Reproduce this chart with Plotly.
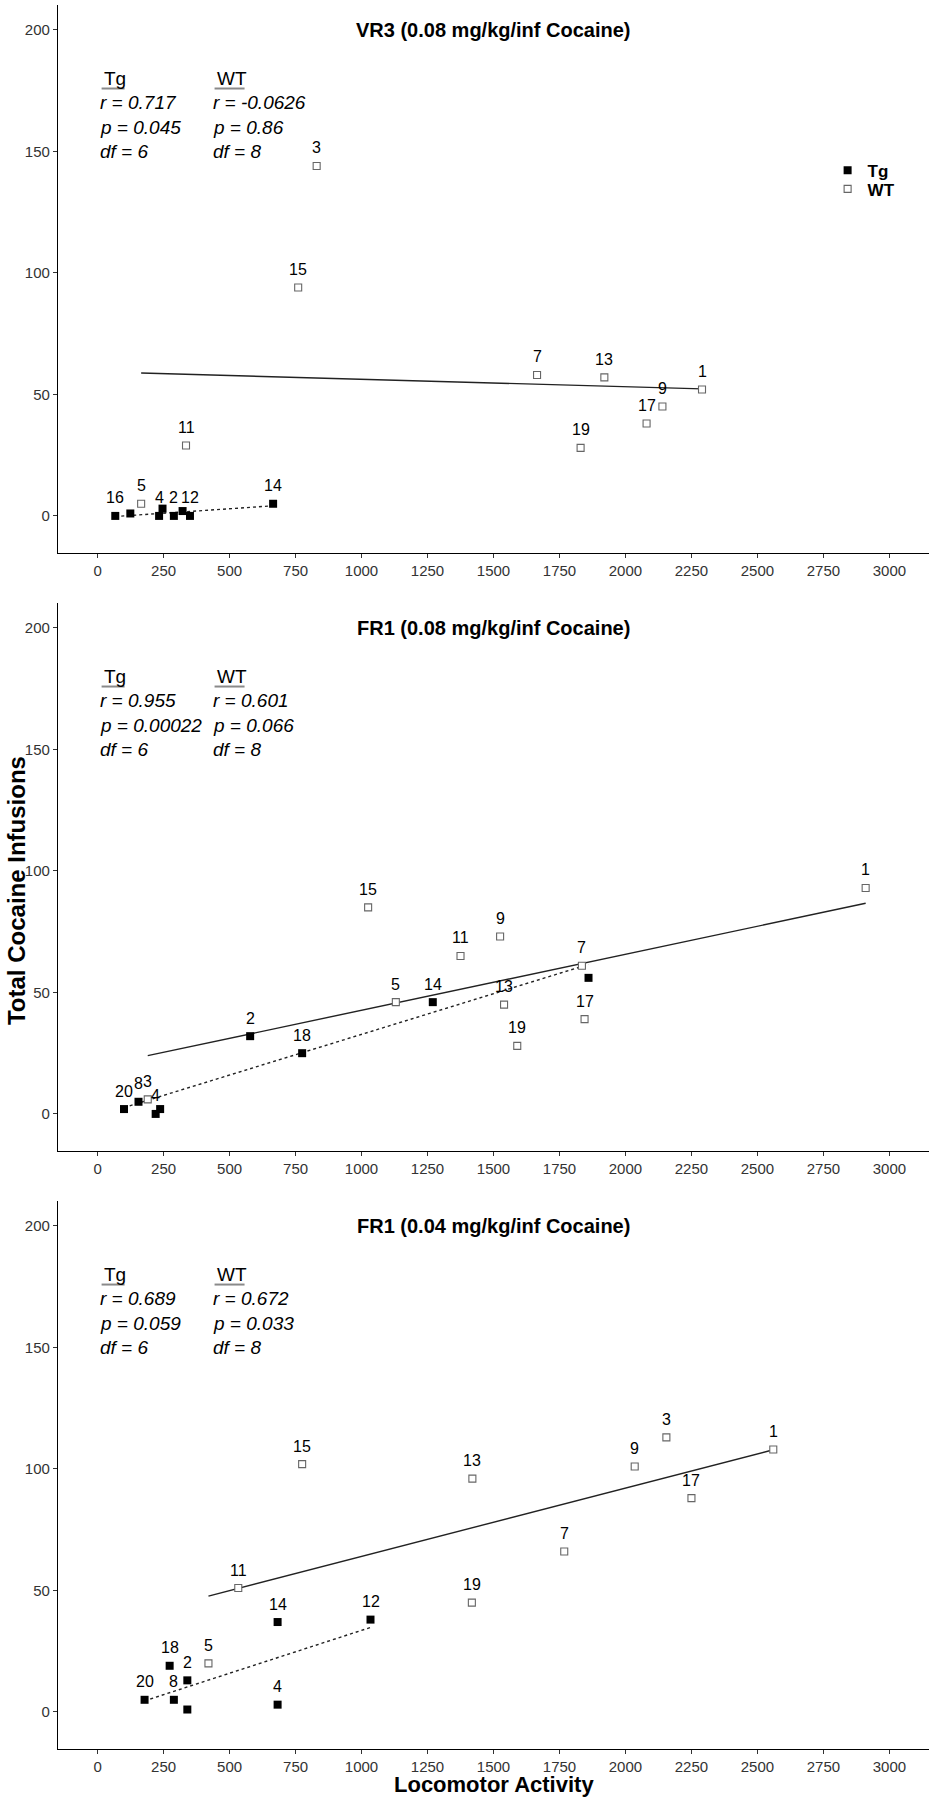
import numpy as np
import plotly.graph_objects as go

# ---------------- data ----------------
# Panel 1: VR3 (0.08 mg/kg/inf Cocaine)
p1_tg_x = [67, 124, 233, 246, 289, 322, 350, 665]
p1_tg_y = [0, 1, 0, 3, 0, 2, 0, 5]
p1_tg_lab = ['16', '', '4', '', '2', '', '12', '14']
p1_wt_x = [830, 760, 1665, 1920, 2290, 2140, 2080, 1830, 335, 165]
p1_wt_y = [144, 94, 58, 57, 52, 45, 38, 28, 29, 5]
p1_wt_lab = ['3', '15', '7', '13', '1', '9', '17', '19', '11', '5']

# Panel 2: FR1 (0.08 mg/kg/inf Cocaine)
p2_tg_x = [578, 775, 1270, 1860, 100, 155, 220, 237]
p2_tg_y = [32, 25, 46, 56, 2, 5, 0, 2]
p2_tg_lab = ['2', '18', '14', '', '20', '8', '4', '']
p2_wt_x = [2910, 1025, 1525, 1375, 1835, 1130, 1540, 1845, 1590, 190]
p2_wt_y = [93, 85, 73, 65, 61, 46, 45, 39, 28, 6]
p2_wt_lab = ['1', '15', '9', '11', '7', '5', '13', '17', '19', '3']

# Panel 3: FR1 (0.04 mg/kg/inf Cocaine)
p3_tg_x = [682, 1034, 273, 340, 178, 289, 340, 682]
p3_tg_y = [37, 38, 19, 13, 5, 5, 1, 3]
p3_tg_lab = ['14', '12', '18', '2', '20', '8', '', '4']
p3_wt_x = [2560, 2155, 2035, 775, 1420, 2250, 1768, 533, 1418, 420]
p3_wt_y = [108, 113, 101, 102, 96, 88, 66, 51, 45, 20]
p3_wt_lab = ['1', '3', '9', '15', '13', '17', '7', '11', '19', '5']

titles = ['VR3 (0.08 mg/kg/inf Cocaine)',
          'FR1 (0.08 mg/kg/inf Cocaine)',
          'FR1 (0.04 mg/kg/inf Cocaine)']
tg_stats = [['r = 0.717', 'p = 0.045', 'df = 6'],
            ['r = 0.955', 'p = 0.00022', 'df = 6'],
            ['r = 0.689', 'p = 0.059', 'df = 6']]
wt_stats = [['r = -0.0626', 'p = 0.86', 'df = 8'],
            ['r = 0.601', 'p = 0.066', 'df = 8'],
            ['r = 0.672', 'p = 0.033', 'df = 8']]

x_ticks = list(range(0, 3001, 250))
y_ticks = [0, 50, 100, 150, 200]

panels = [
    (p1_tg_x, p1_tg_y, p1_tg_lab, p1_wt_x, p1_wt_y, p1_wt_lab),
    (p2_tg_x, p2_tg_y, p2_tg_lab, p2_wt_x, p2_wt_y, p2_wt_lab),
    (p3_tg_x, p3_tg_y, p3_tg_lab, p3_wt_x, p3_wt_y, p3_wt_lab),
]

# ---------------- layout geometry ----------------
W, H = 937, 1800
domains = [[0.6858, 1.0], [0.3429, 0.6571], [0.0, 0.3142]]
FONT = 'Liberation Sans, Arial, sans-serif'
TEXTC = '#000000'

fig = go.Figure()
annotations = []
shapes = []

for i, (tgx, tgy, tgl, wtx, wty, wtl) in enumerate(panels):
    xa = 'x' if i == 0 else f'x{i+1}'
    ya = 'y' if i == 0 else f'y{i+1}'

    # regression lines (least squares fit of each group)
    for gx, gy, dash in [(wtx, wty, 'solid'), (tgx, tgy, 'dot')]:
        k, b = np.polyfit(gx, gy, 1)
        lx = np.array([min(gx), max(gx)], dtype=float)
        fig.add_trace(go.Scatter(x=lx, y=k * lx + b, mode='lines',
                                 line=dict(color='#222222', width=1.4, dash=dash),
                                 xaxis=xa, yaxis=ya, showlegend=False, hoverinfo='skip'))

    fig.add_trace(go.Scatter(x=wtx, y=wty, mode='markers', name='WT',
                             marker=dict(symbol='square', size=7, color='white',
                                         line=dict(color='#666666', width=1.1)),
                             xaxis=xa, yaxis=ya, showlegend=(i == 0), legend='legend2'))
    fig.add_trace(go.Scatter(x=tgx, y=tgy, mode='markers', name='Tg',
                             marker=dict(symbol='square', size=8, color='black',
                                         line=dict(width=0)),
                             xaxis=xa, yaxis=ya, showlegend=(i == 0), legend='legend'))

    # point labels
    for gx, gy, gl in [(tgx, tgy, tgl), (wtx, wty, wtl)]:
        for x, y, t in zip(gx, gy, gl):
            if t:
                annotations.append(dict(x=x, y=y, xref=xa, yref=ya, text=t, showarrow=False,
                                        yshift=18, font=dict(family=FONT, size=16, color=TEXTC)))

    # panel title
    annotations.append(dict(x=1500, y=200, xref=xa, yref=ya, text=f'<b>{titles[i]}</b>',
                            showarrow=False, font=dict(family=FONT, size=20, color=TEXTC)))

    # stats blocks
    for x0, head, ulen, stats in [(0, 'Tg', 23, tg_stats[i]), (428, 'WT', 30, wt_stats[i])]:
        annotations.append(dict(x=x0, y=180, xref=xa, yref=ya, text=head,
                                showarrow=False, xanchor='left', xshift=4,
                                font=dict(family=FONT, size=19, color=TEXTC)))
        shapes.append(dict(type='line', xref=xa, yref=ya, xsizemode='pixel', ysizemode='pixel',
                           xanchor=x0, yanchor=180, x0=4, x1=4 + ulen, y0=-10, y1=-10,
                           line=dict(color='#8a8a8a', width=2)))
        for j, s in enumerate(stats):
            annotations.append(dict(x=x0, y=170 - 10 * j, xref=xa, yref=ya, text=f'<i>{s}</i>',
                                    showarrow=False, xanchor='left',
                                    font=dict(family=FONT, size=19, color=TEXTC)))

# axis titles
annotations.append(dict(x=-0.047, y=0.492, xref='paper', yref='paper', xanchor='center',
                        yanchor='middle', text='<b>Total Cocaine Infusions</b>', textangle=-90,
                        showarrow=False, font=dict(family=FONT, size=24, color=TEXTC)))
annotations.append(dict(x=0.5, y=-0.0287, xref='paper', yref='paper', xanchor='center',
                        yanchor='bottom', text='<b>Locomotor Activity</b>', showarrow=False,
                        font=dict(family=FONT, size=22, color=TEXTC)))

axis_common = dict(showgrid=False, zeroline=False, showline=True, linecolor='#000000',
                   linewidth=1.2, ticks='outside', ticklen=4, tickcolor='#333333', tickwidth=1,
                   tickfont=dict(family=FONT, size=15, color='#333333'))

legend_common = dict(xanchor='left', yanchor='middle', itemwidth=30, tracegroupgap=0,
                     bgcolor='rgba(0,0,0,0)',
                     font=dict(family=FONT, size=17, color='#000000', weight='bold'))

layout = dict(width=W, height=H, plot_bgcolor='white', paper_bgcolor='white',
              margin=dict(l=58, r=8, t=5, b=51),
              annotations=annotations, shapes=shapes,
              legend=dict(legend_common, x=0.8836, y=0.905),
              legend2=dict(legend_common, x=0.8836, y=0.8943),
              showlegend=True)
for i in range(3):
    xk = 'xaxis' if i == 0 else f'xaxis{i+1}'
    yk = 'yaxis' if i == 0 else f'yaxis{i+1}'
    ya = 'y' if i == 0 else f'y{i+1}'
    xa = 'x' if i == 0 else f'x{i+1}'
    layout[xk] = dict(axis_common, range=[-150, 3150], tickvals=x_ticks, anchor=ya, domain=[0, 1])
    layout[yk] = dict(axis_common, range=[-15.25, 210.25], tickvals=y_ticks, anchor=xa,
                      domain=domains[i])

fig.update_layout(**layout)
fig.write_html('out.html', config={'displayModeBar': False},
               post_script="document.body.style.margin='0';")
